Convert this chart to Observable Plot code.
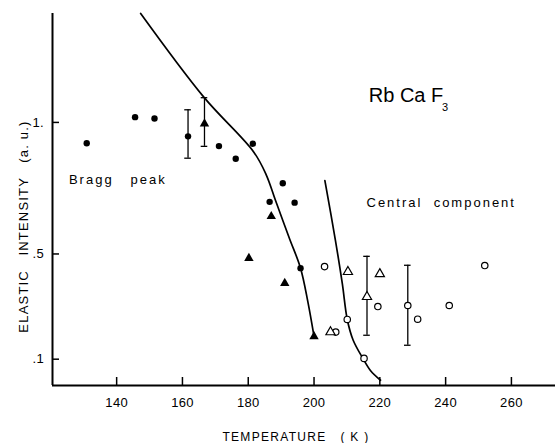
<!DOCTYPE html>
<html>
<head>
<meta charset="utf-8">
<script src="https://cdn.jsdelivr.net/npm/d3@7"></script>
<script src="https://cdn.jsdelivr.net/npm/@observablehq/plot@0.6"></script>
<style>
  html, body { margin: 0; padding: 0; background: #fff; }
  svg { display: block; }
</style>
</head>
<body>
<div id="chart"></div>
<script>
// Bragg peak: filled circles
const braggT = [130.9, 145.6, 151.5, 161.7, 171.1, 176.2, 181.4, 186.5, 190.5, 194.1, 195.9];
const braggV = [0.921, 1.02, 1.015, 0.947, 0.91, 0.862, 0.919, 0.698, 0.769, 0.695, 0.446];
// Bragg peak: filled triangles
const braggTriT = [166.7, 180.2, 187.0, 191.1, 200.0];
const braggTriV = [0.995, 0.484, 0.643, 0.389, 0.186];
// Central component: open circles
const centralCircT = [203.2, 206.6, 210.1, 215.2, 219.4, 228.5, 231.5, 241.1, 251.9];
const centralCircV = [0.452, 0.203, 0.251, 0.103, 0.30, 0.304, 0.252, 0.304, 0.456];
// Central component: open triangles
const centralTriT = [205.0, 210.3, 216.1, 220.0];
const centralTriV = [0.203, 0.432, 0.337, 0.424];
// Error bars
const errT = [161.7, 166.7, 216.1, 228.5];
const errLo = [0.864, 0.909, 0.191, 0.153];
const errHi = [1.048, 1.094, 0.491, 0.457];
// Fitted curves
const braggFitT = [147.3, 166.5, 181.7, 185.5, 188.3, 192.5, 195.9, 198.1, 200.0];
const braggFitV = [1.414, 1.096, 0.887, 0.80, 0.703, 0.56, 0.446, 0.32, 0.187];
const centralFitT = [203.3, 206.5, 208.6, 210.1, 211.9, 214.9, 217.2, 220.2];
const centralFitV = [0.779, 0.552, 0.387, 0.251, 0.172, 0.102, 0.056, 0.02];
// Axes
const xTicks = [140, 160, 180, 200, 220, 240, 260];
const xTickLabels = ["140", "160", "180", "200", "220", "240", "260"];
const yTicks = [0.1, 0.5, 1];
const yTickLabels = [".1", ".5", "1."];
const xDomain = [120.5, 273.4];
const yDomain = [0, 1.414];
const xTitle = "TEMPERATURE   ( K )";
const yTitle = "ELASTIC   INTENSITY   (a. u.)";
// Annotations
const noteText = ["Bragg   peak", "Central  component", "Rb Ca F", "3"];
const noteT = [125.5, 215.95, 216.65, 238.9];
const noteV = [0.78, 0.6935, 1.101, 1.058];
const noteSize = [13, 13, 20, 11];

const pts = (T, V) => T.map((t, i) => ({t, v: V[i]}));
const errs = errT.map((t, i) => ({t, lo: errLo[i], hi: errHi[i]}));
const notes = noteText.map((s, i) => ({s, t: noteT[i], v: noteV[i], size: noteSize[i]}));

const font = "Liberation Sans, Arial, sans-serif";

const svg = Plot.plot({
  width: 555,
  height: 443,
  marginLeft: 52,
  marginRight: 0,
  marginTop: 13,
  marginBottom: 58,
  x: {domain: xDomain, axis: null},
  y: {domain: yDomain, axis: null},
  style: {fontFamily: font, background: "white", color: "black"},
  marks: [
    // axis lines
    Plot.ruleX([xDomain[0]], {stroke: "black", strokeWidth: 2}),
    Plot.ruleY([0], {stroke: "black", strokeWidth: 2}),
    // inward ticks
    Plot.tickX(xTicks, {x: d => d, insetTop: 364, stroke: "black", strokeWidth: 1.5}),
    Plot.tickY(yTicks, {y: d => d, insetRight: 496, stroke: "black", strokeWidth: 1.5}),
    // tick labels
    Plot.text(xTicks, {x: d => d, frameAnchor: "bottom", dy: 17, text: (d, i) => xTickLabels[i], fontSize: 13, lineAnchor: "middle", fill: "black"}),
    Plot.text(yTicks, {y: d => d, frameAnchor: "left", dx: -8.5, textAnchor: "end", text: (d, i) => yTickLabels[i], fontSize: 13, lineAnchor: "middle", fill: "black"}),
    // axis titles
    Plot.text([xTitle], {frameAnchor: "bottom", textAnchor: "middle", dx: -8, dy: 52, text: d => d, fontSize: 12, lineAnchor: "middle", fill: "black"}),
    Plot.text([yTitle], {frameAnchor: "left", textAnchor: "middle", dx: -29, dy: 27, rotate: -90, text: d => d, fontSize: 13, lineAnchor: "middle", fill: "black"}),
    // fitted curves
    Plot.line(pts(braggFitT, braggFitV), {x: "t", y: "v", curve: "catmull-rom", stroke: "black", strokeWidth: 1.7}),
    Plot.line(pts(centralFitT, centralFitV), {x: "t", y: "v", curve: "catmull-rom", stroke: "black", strokeWidth: 1.7}),
    // error bars
    Plot.ruleX(errs, {x: "t", y1: "lo", y2: "hi", stroke: "black", strokeWidth: 1.3}),
    Plot.ruleY(errs, {y: "lo", x1: d => d.t - 1, x2: d => d.t + 1, stroke: "black", strokeWidth: 1.3}),
    Plot.ruleY(errs, {y: "hi", x1: d => d.t - 1, x2: d => d.t + 1, stroke: "black", strokeWidth: 1.3}),
    // data points
    Plot.dot(pts(braggT, braggV), {x: "t", y: "v", r: 3.2, fill: "black", stroke: "none"}),
    Plot.dot(pts(braggTriT, braggTriV), {x: "t", y: "v", r: 3.5, symbol: "triangle", fill: "black", stroke: "none"}),
    Plot.dot(pts(centralCircT, centralCircV), {x: "t", y: "v", r: 3.2, fill: "white", stroke: "black", strokeWidth: 1.2}),
    Plot.dot(pts(centralTriT, centralTriV), {x: "t", y: "v", r: 3.4, symbol: "triangle", fill: "white", stroke: "black", strokeWidth: 1.2}),
    // annotations
    Plot.text(notes, {x: "t", y: "v", text: "s", fontSize: d => d.size, textAnchor: "start", lineAnchor: "middle", fill: "black"})
  ]
});

// letter spacing, like the typed lettering of the original
const spacing = new Map([
  [xTitle, "1.3px"],
  [yTitle, "1.2px"],
  [noteText[0], "2px"],
  [noteText[1], "2px"]
]);
d3.select(svg).selectAll("text").each(function() {
  const t = this.textContent;
  if (spacing.has(t)) this.style.letterSpacing = spacing.get(t);
  else if (xTickLabels.includes(t) || yTickLabels.includes(t)) this.style.letterSpacing = "0.3px";
});

document.getElementById("chart").appendChild(svg);
</script>
</body>
</html>
